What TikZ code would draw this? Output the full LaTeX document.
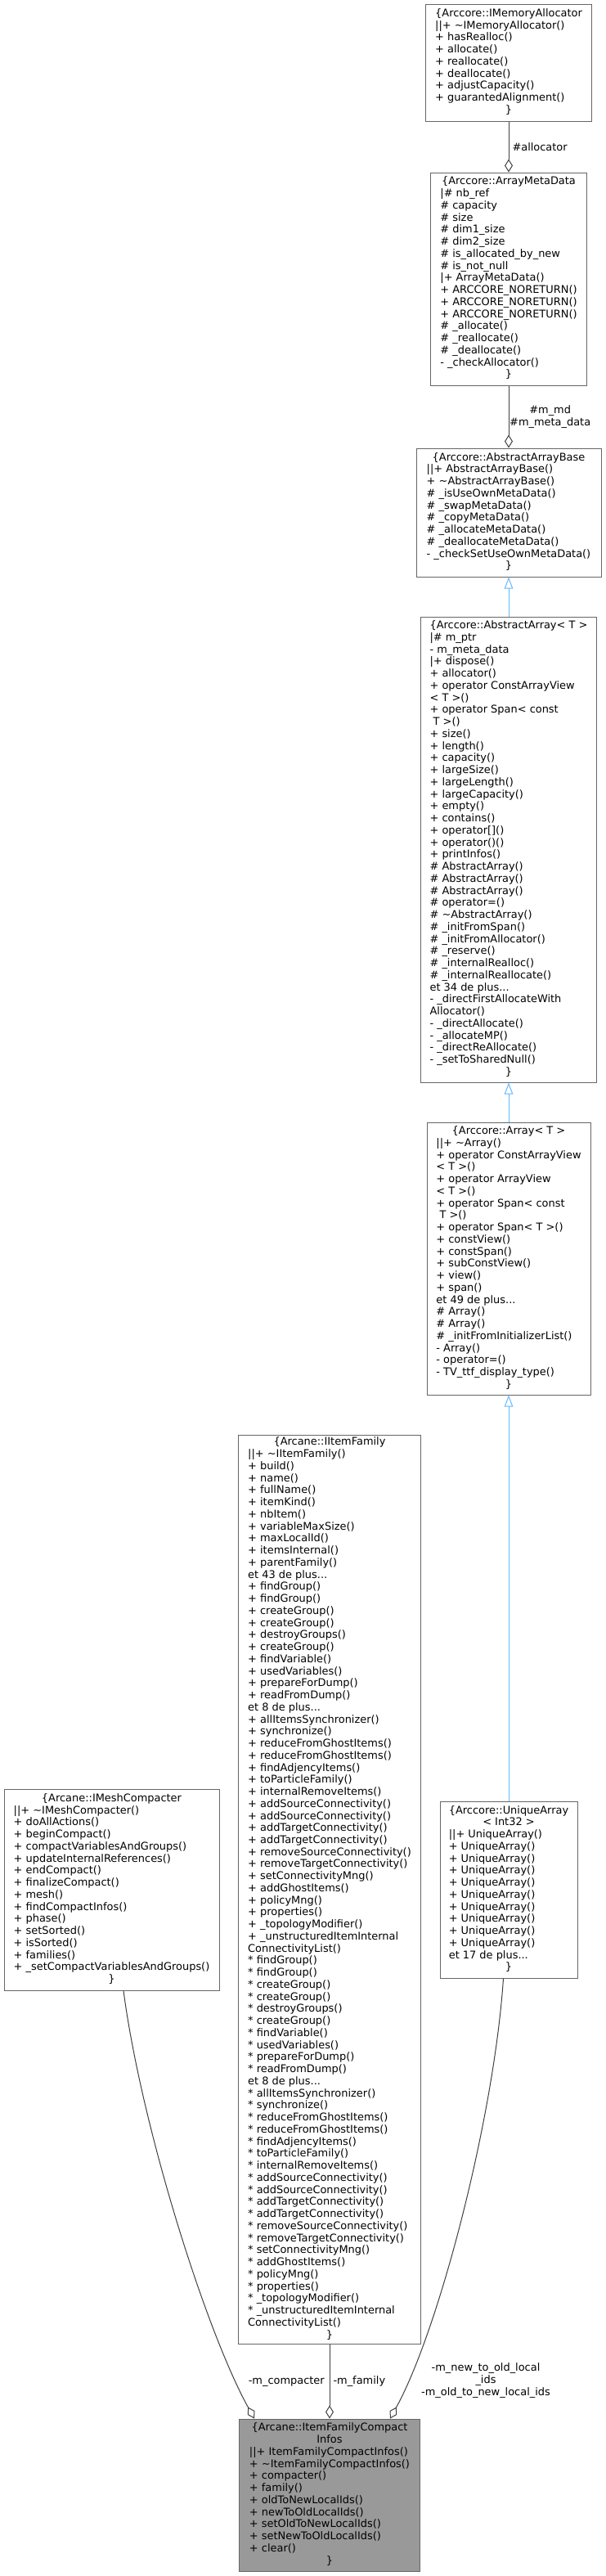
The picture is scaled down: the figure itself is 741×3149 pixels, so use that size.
\documentclass[tikz,border=0pt]{standalone}
\usepackage{fontspec}
\setmainfont{DejaVu Sans}
\usetikzlibrary{arrows.meta, calc}

\definecolor{boxborder}{HTML}{666666}
\definecolor{boxgray}{HTML}{999999}
\definecolor{edgegray}{HTML}{404040}
\definecolor{inhblue}{HTML}{63B8FF}

\newcommand{\members}[1]{\begin{tabular}{@{}l@{}}#1\end{tabular}}
\newcommand{\classhead}[1]{\multicolumn{1}{@{}c@{}}{#1}}

\tikzset{
  umlclass/.style={draw=boxborder, line width=0.75pt, fill=white, inner sep=0pt,
    font=\fontsize{9.7pt}{11.06pt}\selectfont},
  lbl/.style={font=\fontsize{9.7pt}{11.06pt}\selectfont, inner sep=1.5pt, text=black},
  aggr/.style={draw=edgegray, line width=0.75pt, -{Diamond[open, length=12pt, width=7.5pt]}},
  inh/.style={draw=inhblue, line width=0.75pt, -{Triangle[open, length=10.5pt, width=7.9pt]}}
}

\begin{document}
\begin{tikzpicture}[x=0.75pt, y=-0.75pt]
  \useasboundingbox (0,0) rectangle (741,3149);

  % Right column
  \node[umlclass, minimum width=152.25pt, minimum height=107.25pt] (alloc) at (622,76.5) {\members{
    \classhead{\{Arccore::IMemoryAllocator}\\
    ||+ \textasciitilde IMemoryAllocator()\\
    + hasRealloc()\\
    + allocate()\\
    + reallocate()\\
    + deallocate()\\
    + adjustCapacity()\\
    + guarantedAlignment()\\
    \classhead{\}}}};

  \node[umlclass, minimum width=143.25pt, minimum height=195pt] (meta) at (622,341) {\members{
    \classhead{\{Arccore::ArrayMetaData}\\
    |\# nb\_ref\\
    \# capacity\\
    \# size\\
    \# dim1\_size\\
    \# dim2\_size\\
    \# is\_allocated\_by\_new\\
    \# is\_not\_null\\
    |+ ArrayMetaData()\\
    + ARCCORE\_NORETURN()\\
    + ARCCORE\_NORETURN()\\
    + ARCCORE\_NORETURN()\\
    \# \_allocate()\\
    \# \_reallocate()\\
    \# \_deallocate()\\
    - \_checkAllocator()\\
    \classhead{\}}}};

  \node[umlclass, minimum width=169.5pt, minimum height=117.75pt] (base) at (622,626.5) {\members{
    \classhead{\{Arccore::AbstractArrayBase}\\
    ||+ AbstractArrayBase()\\
    + \textasciitilde AbstractArrayBase()\\
    \# \_isUseOwnMetaData()\\
    \# \_swapMetaData()\\
    \# \_copyMetaData()\\
    \# \_allocateMetaData()\\
    \# \_deallocateMetaData()\\
    - \_checkSetUseOwnMetaData()\\
    \classhead{\}}}};

  \node[umlclass, minimum width=161.25pt, minimum height=426.75pt] (abs) at (622,1038.5) {\members{
    \classhead{\{Arccore::AbstractArray< T >}\\
    |\# m\_ptr\\
    - m\_meta\_data\\
    |+ dispose()\\
    + allocator()\\
    + operator ConstArrayView\\
    < T >()\\
    + operator Span< const\\
    ~T >()\\
    + size()\\
    + length()\\
    + capacity()\\
    + largeSize()\\
    + largeLength()\\
    + largeCapacity()\\
    + empty()\\
    + contains()\\
    + operator[]()\\
    + operator()()\\
    + printInfos()\\
    \# AbstractArray()\\
    \# AbstractArray()\\
    \# AbstractArray()\\
    \# operator=()\\
    \# \textasciitilde AbstractArray()\\
    \# \_initFromSpan()\\
    \# \_initFromAllocator()\\
    \# \_reserve()\\
    \# \_internalRealloc()\\
    \# \_internalReallocate()\\
    et 34 de plus...\\
    - \_directFirstAllocateWith\\
    Allocator()\\
    - \_directAllocate()\\
    - \_allocateMP()\\
    - \_directReAllocate()\\
    - \_setToSharedNull()\\
    \classhead{\}}}};

  \node[umlclass, minimum width=150pt, minimum height=249.75pt] (arr) at (622,1538.5) {\members{
    \classhead{\{Arccore::Array< T >}\\
    ||+ \textasciitilde Array()\\
    + operator ConstArrayView\\
    < T >()\\
    + operator ArrayView\\
    < T >()\\
    + operator Span< const\\
    ~T >()\\
    + operator Span< T >()\\
    + constView()\\
    + constSpan()\\
    + subConstView()\\
    + view()\\
    + span()\\
    et 49 de plus...\\
    \# Array()\\
    \# Array()\\
    \# \_initFromInitializerList()\\
    - Array()\\
    - operator=()\\
    - TV\_ttf\_display\_type()\\
    \classhead{\}}}};

  \node[umlclass, minimum width=126pt, minimum height=162pt] (uniq) at (622,2310) {\members{
    \classhead{\{Arccore::UniqueArray}\\
    \classhead{< Int32 >}\\
    ||+ UniqueArray()\\
    + UniqueArray()\\
    + UniqueArray()\\
    + UniqueArray()\\
    + UniqueArray()\\
    + UniqueArray()\\
    + UniqueArray()\\
    + UniqueArray()\\
    + UniqueArray()\\
    + UniqueArray()\\
    et 17 de plus...\\
    \classhead{\}}}};

  % Middle and left column
  \node[umlclass, minimum width=166.9pt, minimum height=833.25pt] (fam) at (403,2309.5) {\members{
    \classhead{\{Arcane::IItemFamily}\\
    ||+ \textasciitilde IItemFamily()\\
    + build()\\
    + name()\\
    + fullName()\\
    + itemKind()\\
    + nbItem()\\
    + variableMaxSize()\\
    + maxLocalId()\\
    + itemsInternal()\\
    + parentFamily()\\
    et 43 de plus...\\
    + findGroup()\\
    + findGroup()\\
    + createGroup()\\
    + createGroup()\\
    + destroyGroups()\\
    + createGroup()\\
    + findVariable()\\
    + usedVariables()\\
    + prepareForDump()\\
    + readFromDump()\\
    et 8 de plus...\\
    + allItemsSynchronizer()\\
    + synchronize()\\
    + reduceFromGhostItems()\\
    + reduceFromGhostItems()\\
    + findAdjencyItems()\\
    + toParticleFamily()\\
    + internalRemoveItems()\\
    + addSourceConnectivity()\\
    + addSourceConnectivity()\\
    + addTargetConnectivity()\\
    + addTargetConnectivity()\\
    + removeSourceConnectivity()\\
    + removeTargetConnectivity()\\
    + setConnectivityMng()\\
    + addGhostItems()\\
    + policyMng()\\
    + properties()\\
    + \_topologyModifier()\\
    + \_unstructuredItemInternal\\
    ConnectivityList()\\
    {*} findGroup()\\
    {*} findGroup()\\
    {*} createGroup()\\
    {*} createGroup()\\
    {*} destroyGroups()\\
    {*} createGroup()\\
    {*} findVariable()\\
    {*} usedVariables()\\
    {*} prepareForDump()\\
    {*} readFromDump()\\
    et 8 de plus...\\
    {*} allItemsSynchronizer()\\
    {*} synchronize()\\
    {*} reduceFromGhostItems()\\
    {*} reduceFromGhostItems()\\
    {*} findAdjencyItems()\\
    {*} toParticleFamily()\\
    {*} internalRemoveItems()\\
    {*} addSourceConnectivity()\\
    {*} addSourceConnectivity()\\
    {*} addTargetConnectivity()\\
    {*} addTargetConnectivity()\\
    {*} removeSourceConnectivity()\\
    {*} removeTargetConnectivity()\\
    {*} setConnectivityMng()\\
    {*} addGhostItems()\\
    {*} policyMng()\\
    {*} properties()\\
    {*} \_topologyModifier()\\
    {*} \_unstructuredItemInternal\\
    ConnectivityList()\\
    \classhead{\}}}};

  \node[umlclass, minimum width=197.25pt, minimum height=184.5pt] (comp) at (136.5,2310) {\members{
    \classhead{\{Arcane::IMeshCompacter}\\
    ||+ \textasciitilde IMeshCompacter()\\
    + doAllActions()\\
    + beginCompact()\\
    + compactVariablesAndGroups()\\
    + updateInternalReferences()\\
    + endCompact()\\
    + finalizeCompact()\\
    + mesh()\\
    + findCompactInfos()\\
    + phase()\\
    + setSorted()\\
    + isSorted()\\
    + families()\\
    + \_setCompactVariablesAndGroups()\\
    \classhead{\}}}};

  % Root class
  \node[umlclass, fill=boxgray, minimum width=165.75pt, minimum height=139.5pt] (info) at (403,3050) {\members{
    \classhead{\{Arcane::ItemFamilyCompact}\\
    \classhead{Infos}\\
    ||+ ItemFamilyCompactInfos()\\
    + \textasciitilde ItemFamilyCompactInfos()\\
    + compacter()\\
    + family()\\
    + oldToNewLocalIds()\\
    + newToOldLocalIds()\\
    + setOldToNewLocalIds()\\
    + setNewToOldLocalIds()\\
    + clear()\\
    \classhead{\}}}};

  % Inheritance
  \draw[inh] (abs) -- (base);
  \draw[inh] (arr) -- (abs);
  \draw[inh] (uniq) -- (arr);

  % Aggregation
  \draw[aggr] (alloc) -- node[lbl, right, inner xsep=3pt] {\#allocator} (meta);
  \draw[aggr] (meta) -- node[lbl, right, align=center, inner xsep=0.5pt] {\#m\_md\\\#m\_meta\_data} (base);
  \draw[aggr] (fam) -- node[lbl, right, inner xsep=3pt] {-m\_family} (info);
  \draw[aggr] ($(comp.south)+(14.5,0)$) .. controls (173,2600) and (252,2850) .. ($(info.north)+(-92,0)$);
  \draw[aggr] ($(uniq.south)+(-6.5,0)$) .. controls (604,2590) and (536,2850) .. ($(info.north)+(74,0)$);

  % Labels
  \node[lbl, anchor=east] (lcomp) at (399,2911) {-m\_compacter};
  \node[lbl, align=center] (luniq) at (594,2910) {-m\_new\_to\_old\_local\\\_ids\\-m\_old\_to\_new\_local\_ids};
\end{tikzpicture}
\end{document}
